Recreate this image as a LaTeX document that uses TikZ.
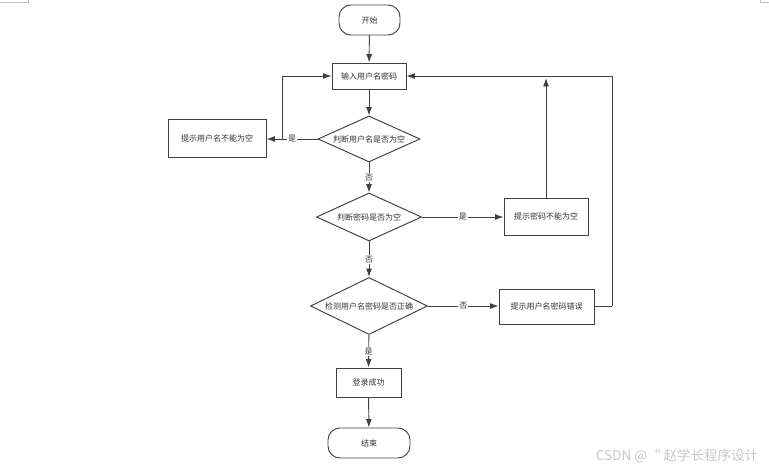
\documentclass[tikz,border=0pt]{standalone}
\usepackage{fontspec}
\setmainfont{Noto Sans CJK SC}
\usetikzlibrary{shapes.geometric,arrows.meta}
\definecolor{ln}{HTML}{404040}
\definecolor{tx}{HTML}{333333}
\begin{document}
\begin{tikzpicture}[x=1pt,y=-1pt,
  every node/.style={font=\fontsize{8}{9.5}\selectfont, text=tx},
  box/.style={draw=ln, line width=0.95pt, rectangle, inner sep=0pt, fill=white},
  term/.style={draw=ln, line width=0.95pt, rectangle, rounded corners=12pt, inner sep=0pt, fill=white},
  dia/.style={draw=ln, line width=0.95pt, diamond, inner sep=0pt, aspect=2.2, fill=white},
  arr/.style={draw=ln, line width=0.95pt, -{Latex[length=8.5pt,width=6pt]}},
  lnk/.style={draw=ln, line width=0.95pt},
  lab/.style={fill=white, inner sep=1pt},
  cropmark/.style={draw=black!25, line width=0.6pt}
]
\useasboundingbox (0,0) rectangle (769,470);
% crop marks
\draw[cropmark] (0,2) -- (28,2) -- (28,0);
\draw[cropmark] (769,2) -- (760,2) -- (760,0);

\node[term, minimum width=61pt, minimum height=30pt] (start) at (369.5,20) {开始};
\node[box, minimum width=74pt, minimum height=26pt] (input) at (369,76) {输入用户名密码};
\node[dia, minimum width=102pt, minimum height=46pt] (d1) at (369,139) {判断用户名是否为空};
\node[box, minimum width=98pt, minimum height=38pt] (h1) at (217,138) {提示用户名不能为空};
\node[dia, minimum width=105pt, minimum height=48pt] (d2) at (369,217) {判断密码是否为空};
\node[box, minimum width=84pt, minimum height=37pt] (h2) at (546,216.5) {提示密码不能为空};
\node[dia, minimum width=117pt, minimum height=57pt] (d3) at (369,306) {检测用户名密码是否正确};
\node[box, minimum width=95pt, minimum height=35pt] (h3) at (546.5,306.5) {提示用户名密码错误};
\node[box, minimum width=65pt, minimum height=29pt] (ok) at (368.5,382.5) {登录成功};
\node[term, minimum width=82pt, minimum height=30pt] (end) at (369,443) {结束};

\coordinate (c1) at (282,139);
\coordinate (c2) at (546,78);
\coordinate (c3) at (612,306);

\draw[arr] (start) -- (input);
\draw[arr] (input) -- (d1);
\draw[arr] (d1.west) -- node[lab, pos=0.5] (l1) {是} (d1.west -| h1.east);
\draw[arr] (c1) |- (input.west);
\draw[arr] (d1) -- node[lab] (l2) {否} (d2);
\draw[arr] (d2.east) -- node[lab] (l3) {是} (d2.east -| h2.west);
\draw[arr] (h2) -- (c2);
\draw[arr] (d2) -- node[lab] (l4) {否} (d3);
\draw[arr] (d3.east) -- node[lab] (l5) {否} (d3.east -| h3.west);
\draw[lnk] (h3.east |- c3) -- (c3);
\draw[arr] (c3) |- (input.east);
\draw[arr] (d3) -- node[lab] (l6) {是} (ok);
\draw[arr] (ok) -- (end);

\node[text=black!22, font=\fontsize{13.5}{15}\selectfont] (wm) at (677,456) {CSDN @“ 赵学长程序设计};
\end{tikzpicture}
\end{document}
